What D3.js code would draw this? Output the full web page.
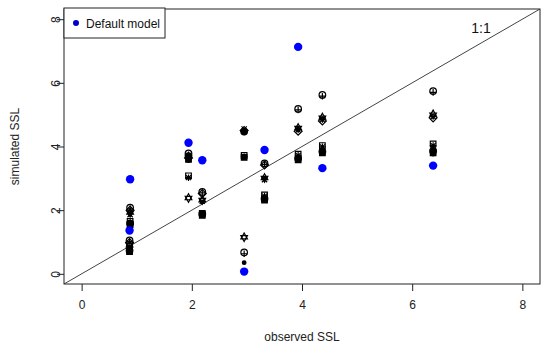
<!DOCTYPE html>
<html><head><meta charset="utf-8">
<script src="https://cdn.jsdelivr.net/npm/d3@7"></script>
<style>body{margin:0;background:#fff}svg{display:block}</style>
</head><body>
<script>
// observed SSL per site
const observed = [0.88, 0.87, 1.94, 2.19, 2.95, 3.32, 3.93, 4.37, 6.38];
// default model (blue)
const defaultModel = [2.97, 1.36, 4.12, 3.57, 0.07, 3.89, 7.13, 3.32, 3.40];
// calibrated model runs (black), one per symbol
const modelCircle    = [2.08, 1.05, 3.78, 2.57, 0.67, 3.47, 5.18, 5.62, 5.74];
const modelPlus      = [2.04, 1.02, 3.74, 2.54, 0.63, 3.44, 5.15, 5.58, 5.70];
const modelTriUp     = [1.95, 0.92, 2.40, 2.33, 1.17, 3.03, 4.60, 4.93, 5.03];
const modelTriDown   = [1.90, 0.88, 2.36, 2.30, 1.13, 2.99, 4.56, 4.88, 4.98];
const modelCross     = [1.86, 0.86, 3.68, 2.28, 4.55, 2.96, 4.52, 4.84, 4.94];
const modelDiamond   = [2.00, 0.98, 3.64, 2.52, 4.50, 3.42, 4.48, 4.80, 4.90];
const modelSquare    = [1.65, 0.80, 3.08, 1.90, 3.72, 2.48, 3.76, 4.03, 4.08];
const modelAsterisk  = [1.62, 0.76, 3.02, 1.86, 3.68, 2.44, 3.72, 3.99, 4.03];
const modelFilledC   = [1.58, 0.73, 3.70, 1.88, 4.47, 2.36, 3.62, 3.84, 3.86];
const modelFilledSq  = [1.55, 0.70, 3.60, 1.84, 3.66, 2.32, 3.58, 3.80, 3.80];
const modelDot       = [1.88, 0.84, 3.56, 2.26, 0.35, 3.00, 4.54, 4.86, 3.76];
const xTicks = [0, 2, 4, 6, 8];
const yTicks = [0, 2, 4, 6, 8];
const legendLabels = ["Default model"];
const xLabel = "observed SSL", yLabel = "simulated SSL", oneToOne = "1:1";

const models = [
  {sym:"circle", v:modelCircle}, {sym:"plus", v:modelPlus},
  {sym:"triUp", v:modelTriUp}, {sym:"triDown", v:modelTriDown},
  {sym:"cross", v:modelCross}, {sym:"diamond", v:modelDiamond},
  {sym:"square", v:modelSquare}, {sym:"asterisk", v:modelAsterisk},
  {sym:"filledC", v:modelFilledC}, {sym:"filledSq", v:modelFilledSq},
  {sym:"dot", v:modelDot}
];

const W = 550, H = 349;
const L = 64, R = 540, T = 9, B = 284;
const svg = d3.select("body").append("svg").attr("width", W).attr("height", H)
  .style("font-family", "Liberation Sans, Arial, sans-serif");
const x = d3.scaleLinear().domain([-0.32, 8.32]).range([L, R]);
const y = d3.scaleLinear().domain([-0.32, 8.32]).range([B, T]);
const ink = "#222";

svg.append("clipPath").attr("id","clip").append("rect")
  .attr("x", L).attr("y", T).attr("width", R-L).attr("height", B-T);

// 1:1 line
svg.append("line").attr("clip-path","url(#clip)")
  .attr("x1", x(x.domain()[0])).attr("y1", y(x.domain()[0]))
  .attr("x2", x(x.domain()[1])).attr("y2", y(x.domain()[1]))
  .attr("stroke", "#444").attr("stroke-width", 1);

// symbol paths
function symPath(s, r) {
  switch (s) {
    case "circle": return `M${-r},0A${r},${r} 0 1,0 ${r},0A${r},${r} 0 1,0 ${-r},0`;
    case "plus": return `M${-r},0H${r}M0,${-r}V${r}`;
    case "cross": { const k=r*0.8; return `M${-k},${-k}L${k},${k}M${-k},${k}L${k},${-k}`; }
    case "asterisk": { const k=r*0.75; return `M${-r},0H${r}M0,${-r}V${r}M${-k},${-k}L${k},${k}M${-k},${k}L${k},${-k}`; }
    case "triUp": return `M0,${-r*1.1}L${r},${r*0.7}L${-r},${r*0.7}Z`;
    case "triDown": return `M0,${r*1.1}L${r},${-r*0.7}L${-r},${-r*0.7}Z`;
    case "diamond": return `M0,${-r*1.2}L${r*1.2},0L0,${r*1.2}L${-r*1.2},0Z`;
    case "square": case "filledSq": { const k=r*0.85; return `M${-k},${-k}H${k}V${k}H${-k}Z`; }
    case "filledC": return `M${-r},0A${r},${r} 0 1,0 ${r},0A${r},${r} 0 1,0 ${-r},0`;
    case "dot": { const k=r*0.55; return `M${-k},0A${k},${k} 0 1,0 ${k},0A${k},${k} 0 1,0 ${-k},0`; }
  }
}
const filled = new Set(["filledC","filledSq","dot"]);

const gModels = svg.append("g");
models.forEach(m => {
  gModels.selectAll(null).data(m.v.map((v,i)=>({ox:observed[i], sv:v}))).enter()
    .append("path")
    .attr("transform", d => `translate(${x(d.ox)},${y(d.sv)})`)
    .attr("d", symPath(m.sym, 3.3))
    .attr("fill", filled.has(m.sym) ? "#000" : "none")
    .attr("stroke", "#000").attr("stroke-width", 1.2);
});

// default model
svg.append("g").selectAll("circle").data(defaultModel.map((v,i)=>({ox:observed[i], sv:v}))).enter()
  .append("circle").attr("cx", d=>x(d.ox)).attr("cy", d=>y(d.sv)).attr("r", 4.2)
  .attr("fill", "#0000ff");

// box
svg.append("rect").attr("x", L).attr("y", T).attr("width", R-L).attr("height", B-T)
  .attr("fill", "none").attr("stroke", ink).attr("stroke-width", 1);

// axes
const xa = svg.append("g").attr("transform", `translate(0,${B})`)
  .call(d3.axisBottom(x).tickValues(xTicks).tickSize(7).tickPadding(9).tickFormat(d3.format("d")));
const ya = svg.append("g").attr("transform", `translate(${L},0)`)
  .call(d3.axisLeft(y).tickValues(yTicks).tickSize(7).tickPadding(6).tickFormat(d3.format("d")));
[xa, ya].forEach(a => {
  a.select(".domain").remove();
  a.selectAll("line").attr("stroke", ink);
  a.selectAll("text").attr("fill", ink).style("font-size", "12px")
    .style("font-family", "Liberation Sans, Arial, sans-serif");
});
ya.selectAll("text").attr("text-anchor", "middle").attr("dy", null)
  .attr("transform", function(){ return `translate(${-21 - (+d3.select(this).attr("x"))},0) rotate(-90)`; })
  .attr("x", 0).attr("y", 4);

// axis titles
svg.append("text").attr("x", (L+R)/2).attr("y", 341).attr("text-anchor", "middle")
  .attr("fill", ink).style("font-size", "12px").text(xLabel);
svg.append("text").attr("transform", `translate(19,${(T+B)/2}) rotate(-90)`)
  .attr("text-anchor", "middle").attr("fill", ink).style("font-size", "12px").text(yLabel);

// 1:1 label
svg.append("text").attr("x", 481).attr("y", 33).attr("text-anchor", "middle")
  .attr("fill", "#111").style("font-size", "14px").text(oneToOne);

// legend
const lg = svg.append("g");
lg.append("rect").attr("x", L).attr("y", T-1).attr("width", 101).attr("height", 30)
  .attr("fill", "#fff").attr("stroke", ink).attr("stroke-width", 1);
lg.selectAll("circle").data(legendLabels).enter().append("circle")
  .attr("cx", 76).attr("cy", 23).attr("r", 3).attr("fill", "#0000cc");
lg.selectAll("text").data(legendLabels).enter().append("text")
  .attr("x", 86).attr("y", 27.5).attr("fill", "#111").style("font-size", "12px").text(d=>d);
</script>
</body></html>
